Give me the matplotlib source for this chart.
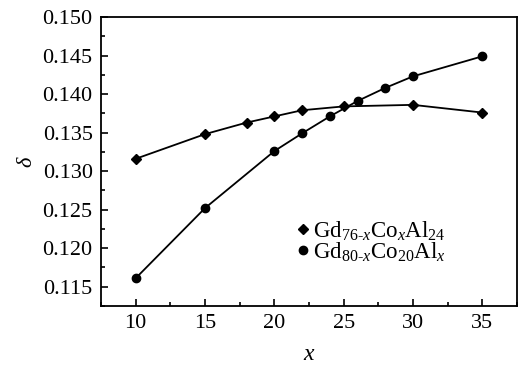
import matplotlib
matplotlib.use("Agg")
import matplotlib.pyplot as plt
from matplotlib.ticker import MultipleLocator, FormatStrFormatter

x_co = [10, 15, 18, 20, 22, 25, 30, 35]
d_co = [0.1316, 0.1348, 0.1363, 0.1371, 0.1379, 0.1384, 0.1386, 0.1376]
x_al = [10, 15, 20, 22, 24, 26, 28, 30, 35]
d_al = [0.1161, 0.1252, 0.1326, 0.1349, 0.1371, 0.1391, 0.1408, 0.1423, 0.1449]

plt.rcParams['font.family'] = ['Liberation Serif', 'DejaVu Serif']
plt.rcParams['mathtext.fontset'] = 'custom'
plt.rcParams['mathtext.rm'] = 'Liberation Serif'
plt.rcParams['mathtext.it'] = 'Liberation Serif:italic'

fig = plt.figure(figsize=(5.2, 3.67), dpi=100)
ax = fig.add_axes([101/520, 1-306/367, (517-101)/520, (306-17)/367])

ax.plot(x_co, d_co, color='black', lw=1.3, marker='D', ms=5.5,
        label=r'Gd$_{\mathrm{76\text{-}}x}$Co$_{x}$Al$_{\mathrm{24}}$')
ax.plot(x_al, d_al, color='black', lw=1.3, marker='o', ms=6,
        label=r'Gd$_{\mathrm{80\text{-}}x}$Co$_{\mathrm{20}}$Al$_{x}$')

ax.set_xlim(7.5, 37.5)
ax.set_ylim(0.1125, 0.150)
ax.xaxis.set_major_locator(MultipleLocator(5))
ax.xaxis.set_minor_locator(MultipleLocator(2.5))
ax.yaxis.set_major_locator(MultipleLocator(0.005))
ax.yaxis.set_minor_locator(MultipleLocator(0.0025))
ax.yaxis.set_major_formatter(FormatStrFormatter('%.3f'))
ax.tick_params(which='both', direction='in', labelsize=16, width=1.2, pad=6)
ax.tick_params(which='major', length=5)
ax.tick_params(which='minor', length=3)
for s in ax.spines.values():
    s.set_linewidth(1.3)

ax.set_xlabel(r'$x$', fontsize=17, labelpad=8)
ax.set_ylabel(r'$\delta$', fontsize=16, labelpad=4)

leg = ax.legend(loc='upper left', bbox_to_anchor=(0.477, 0.30), frameon=False,
                fontsize=16.5, handlelength=0.3, handletextpad=0.3,
                labelspacing=-0.1, borderaxespad=0, borderpad=0)
for h in leg.legend_handles:
    h.set_linestyle('none')

fig.savefig('out.png', dpi=100)
